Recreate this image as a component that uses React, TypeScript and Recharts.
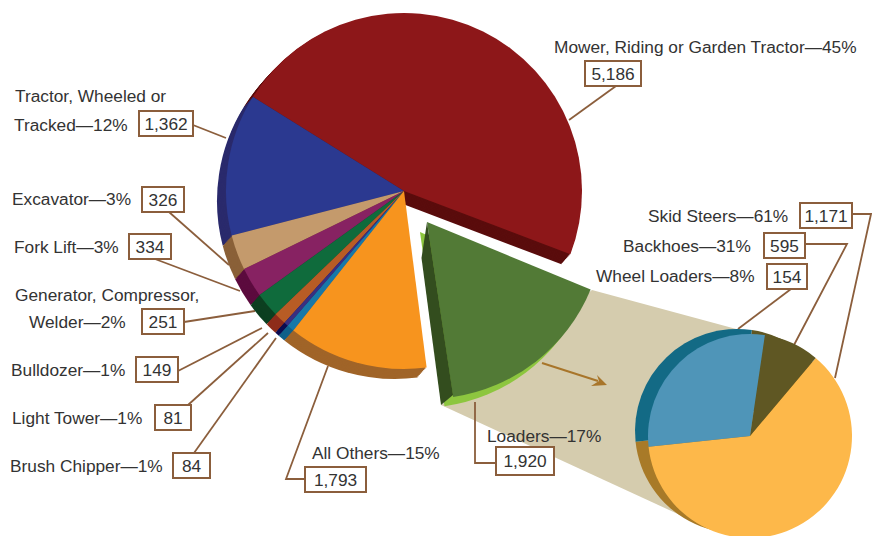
import React from "react";
import { PieChart, Pie, Cell } from "recharts";

// slice sizes are read off the drawn arcs (% of a full circle), they don't
// quite follow the printed counts
const mainCategories = [
  "Mower, Riding or Garden Tractor",
  "Tractor, Wheeled or Tracked",
  "Excavator",
  "Fork Lift",
  "Generator, Compressor, Welder",
  "Bulldozer",
  "Light Tower",
  "Brush Chipper",
  "All Others",
];
const mainShares = [46.9, 12.9, 3.2, 2.7, 2.25, 1.1, 0.4, 0.65, 12.7];
const loadersShare = [16.4];
const loaderCategories = ["Skid Steers", "Wheel Loaders", "Backhoes"];
const loaderShares = [62.2, 8.8, 29];

const mainFaces = ["#8d1719", "#2b3990", "#c49a6c", "#872262", "#0f6b3c", "#b85c25", "#3a2f80", "#1878a8", "#f7941e"];
const mainSides = ["#5a0c0c", "#2a2a6c", "#8a6038", "#5c0b3e", "#0c3f20", "#8e2c1a", "#0c0c50", "#10608a", "#a06428"];
const loaderFaces = ["#fdb84a", "#5f5723", "#4f95b8"];
const loaderSides = ["#a87a28", "#5f5723", "#136a85"];

const BROWN = "#8b5e3c";
const TEXT = "#333333";
const FONT = "'Liberation Sans', Arial, sans-serif";
const FONT_SIZE = 17.3;

const mainData = mainCategories.map((name, i) => ({ name, share: mainShares[i] }));
const loadersData = [{ name: "Loaders", share: loadersShare[0] }];
const breakdownData = loaderCategories.map((name, i) => ({ name, share: loaderShares[i] }));

// [text, x, baseline]
const labelTexts: [string, number, number][] = [
  ["Mower, Riding or Garden Tractor—45%", 554, 53],
  ["Tractor, Wheeled or", 15, 102],
  ["Tracked—12%", 14, 131],
  ["Excavator—3%", 12, 205],
  ["Fork Lift—3%", 14, 253],
  ["Generator, Compressor,", 15, 301],
  ["Welder—2%", 29, 328],
  ["Bulldozer—1%", 11, 376],
  ["Light Tower—1%", 12, 424],
  ["Brush Chipper—1%", 10, 472],
  ["All Others—15%", 312, 459],
  ["Loaders—17%", 487, 442],
  ["Skid Steers—61%", 648, 222],
  ["Backhoes—31%", 623, 252],
  ["Wheel Loaders—8%", 596, 282],
];

const boxValues = ["5,186", "1,362", "326", "334", "251", "149", "81", "84", "1,793", "1,920", "1,171", "595", "154"];
// x, y, width, height of each value box
const boxRects = [
  [585, 61, 56, 25],
  [139, 111, 54, 25],
  [142, 187, 42, 25],
  [129, 234, 42, 25],
  [142, 309, 42, 25],
  [136, 357, 42, 25],
  [155, 405, 36, 25],
  [173, 453, 37, 25],
  [305, 467, 61, 25],
  [496, 447, 58, 28],
  [800, 203, 52, 25],
  [764, 233, 41, 25],
  [767, 264, 40, 25],
];
const leaders = [
  "616,86 569,120",
  "193,125 226,138",
  "169,212 229,265",
  "155,259 240,291",
  "184,322 255,311",
  "178,371 262,328",
  "188,405 268,333",
  "194,453 276,338",
  "305,479 286,479 328,366",
  "475,402 475,463 496,463",
  "852,214 871,214 835,378",
  "805,244 847,244 794,345",
  "791,289 738,329",
];

const sideSteps = [1, 0.875, 0.75, 0.625, 0.5, 0.375, 0.25, 0.125];

const App = () => {
  return (
    <div style={{ position: "absolute", left: 0, top: 0, width: 872, height: 536 }}>
      <PieChart width={872} height={536} margin={{ top: 0, right: 0, bottom: 0, left: 0 }}>
        {/* band joining the loaders slice to its breakdown */}
        <polygon points="592,290 740,330 750,436 680,515 441,405" fill="#d5ccae" />

        {sideSteps.map((t) => (
          <Pie
            key={t}
            data={mainData}
            dataKey="share"
            cx={404 - 9 * t}
            cy={191 + 10 * t}
            outerRadius={178}
            startAngle={-20.8}
            endAngle={277.3}
            stroke="none"
            isAnimationActive={false}
          >
            {mainData.map((d, i) => (
              <Cell key={d.name} fill={mainSides[i]} />
            ))}
          </Pie>
        ))}
        <Pie
          data={mainData}
          dataKey="share"
          cx={404}
          cy={191}
          outerRadius={178}
          startAngle={-20.8}
          endAngle={277.3}
          stroke="none"
          isAnimationActive={false}
        >
          {mainData.map((d, i) => (
            <Cell key={d.name} fill={mainFaces[i]} />
          ))}
        </Pie>

        <Pie
          data={loadersData}
          dataKey="share"
          cx={420}
          cy={232}
          outerRadius={176}
          startAngle={-82}
          endAngle={-24}
          stroke="none"
          fill="#8dc63f"
          isAnimationActive={false}
        />
        <Pie
          data={loadersData}
          dataKey="share"
          cx={427}
          cy={222}
          outerRadius={177}
          startAngle={-81.5}
          endAngle={-22.4}
          stroke="none"
          fill="#527a36"
          isAnimationActive={false}
        />

        <Pie
          data={breakdownData}
          dataKey="share"
          cx={737}
          cy={431}
          outerRadius={102}
          startAngle={186}
          endAngle={546}
          stroke="none"
          isAnimationActive={false}
        >
          {breakdownData.map((d, i) => (
            <Cell key={d.name} fill={loaderSides[i]} />
          ))}
        </Pie>
        <Pie
          data={breakdownData}
          dataKey="share"
          cx={750}
          cy={436}
          outerRadius={102}
          startAngle={186}
          endAngle={546}
          stroke="none"
          isAnimationActive={false}
        >
          {breakdownData.map((d, i) => (
            <Cell key={d.name} fill={loaderFaces[i]} />
          ))}
        </Pie>

        <g>
          <line x1={542} y1={363} x2={598} y2={381} stroke="#a8752a" strokeWidth={2} />
          <polygon points="607,385 597,375 599,381 591,386" fill="#a8752a" />
          {leaders.map((points) => (
            <polyline key={points} points={points} fill="none" stroke={BROWN} strokeWidth={1.8} />
          ))}
          {boxValues.map((value, i) => {
            const [x, y, width, height] = boxRects[i];
            return (
              <g key={value}>
                <rect x={x} y={y} width={width} height={height} fill="#ffffff" stroke={BROWN} strokeWidth={2} />
                <text
                  x={x + width / 2}
                  y={y + height / 2 + 6}
                  textAnchor="middle"
                  fontFamily={FONT}
                  fontSize={FONT_SIZE}
                  fill={TEXT}
                >
                  {value}
                </text>
              </g>
            );
          })}
          {labelTexts.map(([text, x, y]) => (
            <text key={text} x={x} y={y} fontFamily={FONT} fontSize={FONT_SIZE} fill={TEXT}>
              {text}
            </text>
          ))}
        </g>
      </PieChart>
      {/* pies paint above plain svg children, so the slice's cut side sits in its own layer */}
      <svg width={872} height={536} style={{ position: "absolute", left: 0, top: 0, pointerEvents: "none" }}>
        <polygon points="427,222 421.5,258 441,405 453,395" fill="#334d1e" />
      </svg>
    </div>
  );
};

export default App;
